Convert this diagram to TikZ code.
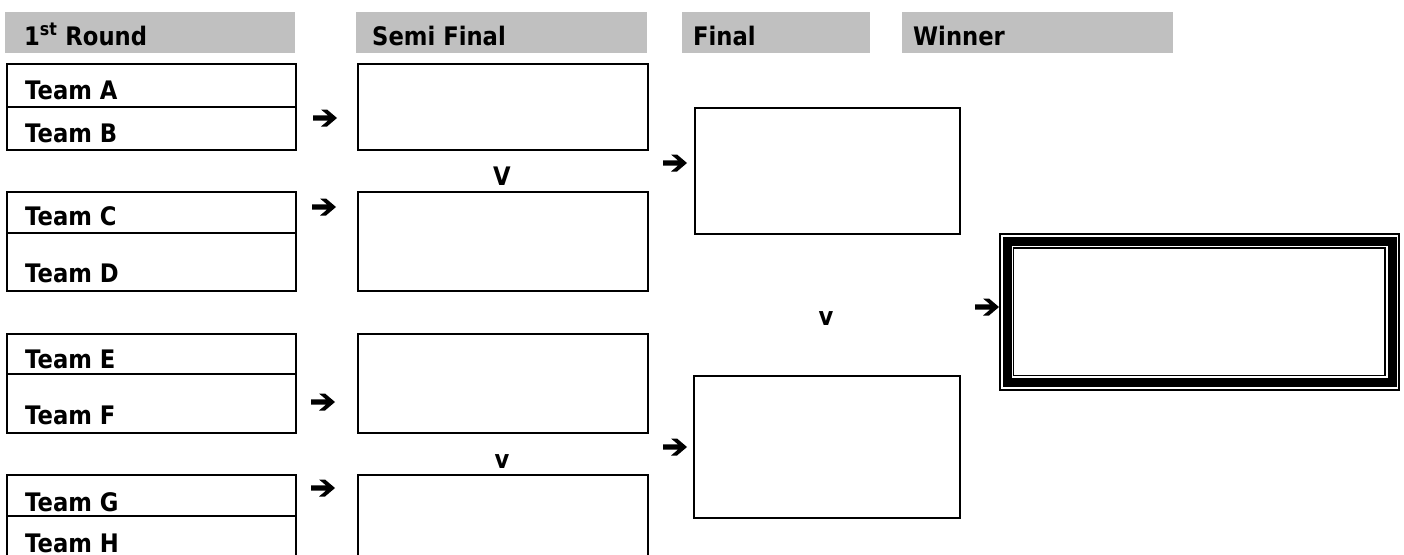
\documentclass[tikz,border=0pt]{standalone}
\usepackage{fontspec}
\setmainfont{DejaVu Sans}[FakeStretch=0.89]
\usetikzlibrary{calc}
\definecolor{hdr}{HTML}{C0C0C0}
\begin{document}
\begin{tikzpicture}[x=1pt,y=-1pt,
  every node/.style={font=\fontsize{25.5}{29}\selectfont\bfseries},
  hbar/.style={fill=hdr, draw=none, minimum width=#1, minimum height=41pt, inner sep=0pt, anchor=north west},
  htext/.style={anchor=base west, inner sep=0pt},
  box/.style={draw=black, line width=2pt, inner sep=0pt, anchor=north west, minimum width=#1},
  team/.style={anchor=base west, inner sep=0pt},
  arr/.style={inner sep=0pt, minimum width=25pt, minimum height=19pt,
    path picture={
      \fill[shift={(path picture bounding box.center)}]
        (-12,-2.6) -- (3,-2.6) -- (-4,-8.5) -- (2,-8.5) -- (12,0) -- (2,8.5) -- (-4,8.5) -- (3,2.6) -- (-12,2.6) -- cycle;
    }},
  vs/.style={inner sep=0pt}
]
\useasboundingbox (0,0) rectangle (1404,554);
\clip (0,0) rectangle (1404,554);

% headers
\node[hbar=290pt] (h1) at (5,12) {};
\node[hbar=291pt] (h2) at (356,12) {};
\node[hbar=188pt] (h3) at (682,12) {};
\node[hbar=271pt] (h4) at (902,12) {};
\node[htext] (t1) at (24,45) {1\textsuperscript{st} Round};
\node[htext] (t2) at (372,45) {Semi Final};
\node[htext] (t3) at (693,45) {Final};
\node[htext] (t4) at (913,45) {Winner};

% first round
\node[box=289pt, minimum height=86pt] (ab) at (6,63) {};
\draw[line width=2pt] ($(ab.north west)+(0,44)$) -- ($(ab.north east)+(0,44)$);
\node[box=289pt, minimum height=99pt] (cd) at (6,191) {};
\draw[line width=2pt] ($(cd.north west)+(0,42)$) -- ($(cd.north east)+(0,42)$);
\node[box=289pt, minimum height=99pt] (ef) at (6,333) {};
\draw[line width=2pt] ($(ef.north west)+(0,41)$) -- ($(ef.north east)+(0,41)$);
\node[box=289pt, minimum height=100pt] (gh) at (6,474) {};
\draw[line width=2pt] ($(gh.north west)+(0,42)$) -- ($(gh.north east)+(0,42)$);

\node[team] (ta) at (25,99) {Team A};
\node[team] (tb) at (25,142) {Team B};
\node[team] (tc) at (25,225) {Team C};
\node[team] (td) at (25,282) {Team D};
\node[team] (te) at (25,368) {Team E};
\node[team] (tf) at (25,424) {Team F};
\node[team] (tg) at (25,511) {Team G};
\node[team] (th) at (25,552) {Team H};

% semi final
\node[box=290pt, minimum height=86pt] (s1) at (357,63) {};
\node[box=290pt, minimum height=99pt] (s2) at (357,191) {};
\node[box=290pt, minimum height=99pt] (s3) at (357,333) {};
\node[box=290pt, minimum height=100pt] (s4) at (357,474) {};

% final
\node[box=265pt, minimum height=126pt] (f1) at (694,107) {};
\node[box=266pt, minimum height=142pt] (f2) at (693,375) {};

% winner
\node[draw=black, line width=1.5pt, inner sep=0pt, anchor=north west, minimum width=399pt, minimum height=156pt] (w) at (999,233) {};
\draw[line width=9pt] ($(w.north west)+(8,8.5)$) rectangle ($(w.south east)+(-7.5,-8)$);
\draw[line width=1.5pt] ($(w.north west)+(14.5,15)$) rectangle ($(w.south east)+(-14.5,-15)$);

% arrows
\node[arr] (a1) at (325,118) {};
\node[arr] (a2) at (324,207) {};
\node[arr] (a3) at (323,402) {};
\node[arr] (a4) at (323,488) {};
\node[arr] (a5) at (675,163) {};
\node[arr] (a6) at (675,447) {};
\node[arr] (a7) at (987,307) {};

% versus
\node[vs] (v1) at (502,176) {V};
\node[vs] (v2) at (502,462) {v};
\node[vs] (v3) at (826,319) {v};
\end{tikzpicture}
\end{document}
